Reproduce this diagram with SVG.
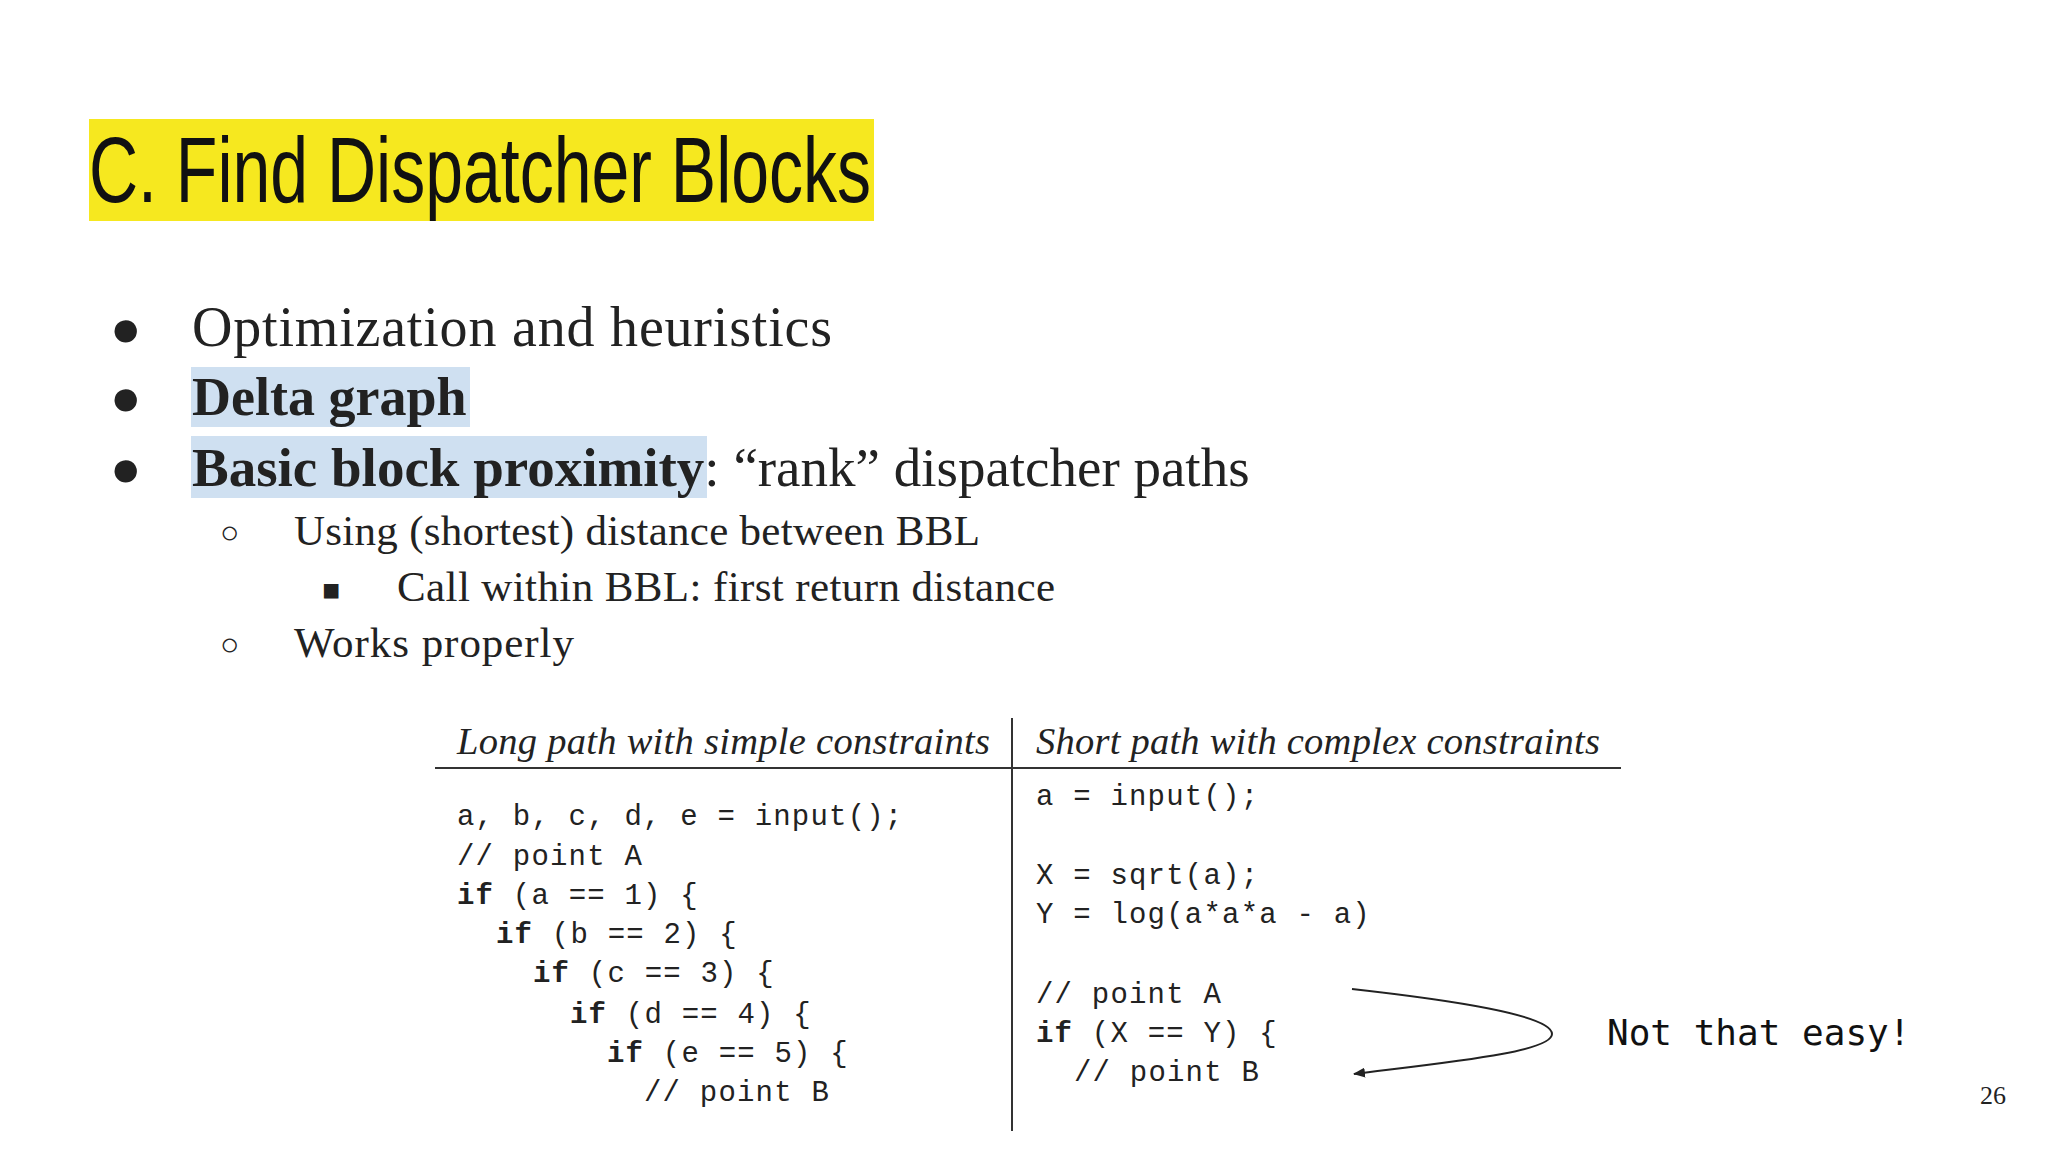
<svg xmlns="http://www.w3.org/2000/svg" width="2048" height="1152" viewBox="0 0 2048 1152">
<style>
.s{font-family:"Liberation Serif",serif;fill:#222}
.c{font-family:"Liberation Mono",monospace;font-size:29px;fill:#222;letter-spacing:1.2px}
.h{font-family:"Liberation Serif",serif;font-style:italic;font-size:38.5px;fill:#222}
.b{font-weight:bold}
</style>
<defs><marker id="ah" markerWidth="12" markerHeight="10" refX="11" refY="5" orient="auto" markerUnits="userSpaceOnUse"><path d="M0,0 L12,5 L0,10 Z" fill="#222"/></marker></defs>
<rect width="2048" height="1152" fill="#fff"/>
<g id="title"><rect x="89" y="119" width="785" height="102" fill="#f6e81f"/>
<text x="89" y="202" font-family="Liberation Sans Narrow,Liberation Sans,sans-serif" font-size="92" textLength="782" lengthAdjust="spacingAndGlyphs" fill="#111">C. Find Dispatcher Blocks</text></g>
<g id="bullets">
<rect x="191" y="367" width="279" height="60" fill="#cfe0f1"/>
<rect x="191" y="436" width="516" height="62" fill="#cfe0f1"/>
<text class="s" x="110" y="346" font-size="52">●</text>
<text class="s" x="110" y="415" font-size="52">●</text>
<text class="s" x="110" y="486" font-size="52">●</text>
<text class="s" x="192" y="346" font-size="56" textLength="640">Optimization and heuristics</text>
<text class="s b" x="192" y="415" font-size="54">Delta graph</text>
<text class="s" x="192" y="486" font-size="55"><tspan class="b">Basic block proximity</tspan>: “rank” dispatcher paths</text>
<text class="s" x="220" y="543" font-size="32">○</text>
<text class="s" x="294" y="545" font-size="43" textLength="686">Using (shortest) distance between BBL</text>
<text class="s" x="322" y="600" font-size="30">■</text>
<text class="s" x="397" y="601" font-size="43" textLength="658">Call within BBL: first return distance</text>
<text class="s" x="220" y="655" font-size="32">○</text>
<text class="s" x="294" y="657" font-size="43" textLength="280">Works properly</text>
</g>
<g id="table">
<line x1="435" y1="768" x2="1621" y2="768" stroke="#333" stroke-width="2"/>
<line x1="1012" y1="718" x2="1012" y2="1131" stroke="#333" stroke-width="2"/>
<text class="h" x="457" y="754" textLength="533">Long path with simple constraints</text>
<text class="h" x="1036" y="754" textLength="564">Short path with complex constraints</text>
<text class="c" x="457" y="825">a, b, c, d, e = input();</text>
<text class="c" x="457" y="865">// point A</text>
<text class="c" x="457" y="904"><tspan class="b">if</tspan> (a == 1) {</text>
<text class="c" x="496" y="943"><tspan class="b">if</tspan> (b == 2) {</text>
<text class="c" x="533" y="982"><tspan class="b">if</tspan> (c == 3) {</text>
<text class="c" x="570" y="1023"><tspan class="b">if</tspan> (d == 4) {</text>
<text class="c" x="607" y="1062"><tspan class="b">if</tspan> (e == 5) {</text>
<text class="c" x="644" y="1101">// point B</text>
<text class="c" x="1036" y="805">a = input();</text>
<text class="c" x="1036" y="884">X = sqrt(a);</text>
<text class="c" x="1036" y="923">Y = log(a*a*a - a)</text>
<text class="c" x="1036" y="1003">// point A</text>
<text class="c" x="1036" y="1042"><tspan class="b">if</tspan> (X == Y) {</text>
<text class="c" x="1074" y="1081">// point B</text>
</g>
<g id="connectors"><path d="M1352,989 C1450,1000 1552,1015 1552,1034 C1552,1052 1450,1062 1354,1074" fill="none" stroke="#222" stroke-width="2" marker-end="url(#ah)"/></g>
<g id="note"><text x="1607" y="1045" font-family="DejaVu Sans Mono,monospace" font-size="36" fill="#111">Not that easy!</text></g>
<text class="s" x="1980" y="1104" font-size="26">26</text>
</svg>
